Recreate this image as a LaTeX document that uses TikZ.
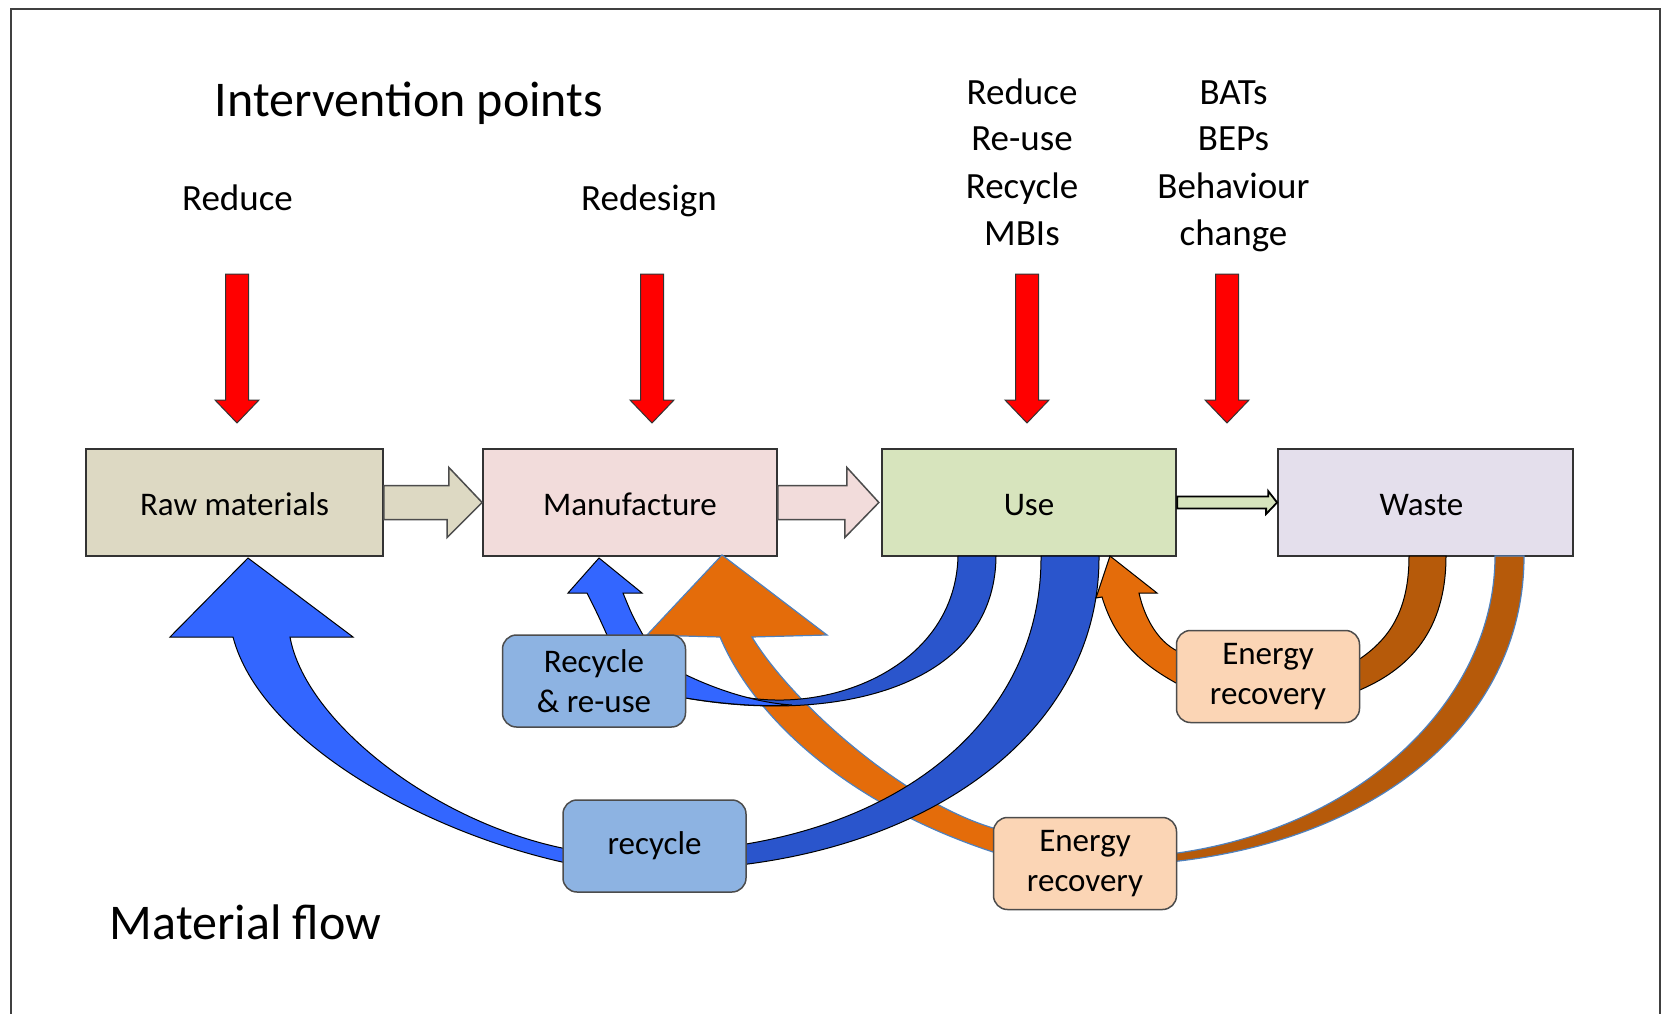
\documentclass[tikz,border=0pt]{standalone}
\usepackage{fontspec}
\setmainfont{Carlito}
\usetikzlibrary{calc}
\definecolor{rawc}{HTML}{DDD9C3}
\definecolor{manc}{HTML}{F2DCDB}
\definecolor{usec}{HTML}{D7E4BD}
\definecolor{wastec}{HTML}{E4DFEC}
\definecolor{bluebox}{HTML}{8DB3E2}
\definecolor{energybox}{HTML}{FBD5B5}
\definecolor{brightblue}{HTML}{3366FF}
\definecolor{darkblue}{HTML}{2A55CC}
\definecolor{orangec}{HTML}{E46C0A}
\definecolor{brownc}{HTML}{B65A0A}
\definecolor{edgeblue}{HTML}{4F81BD}
\begin{document}
\begin{tikzpicture}[x=1pt,y=-1pt,
  box/.style={draw=black!80, line width=1.8pt, inner sep=0pt, minimum height=107pt,
    text height=27pt, text depth=2pt, font=\fontsize{33}{38}\selectfont},
  rbox/.style={draw=black!70, line width=1.5pt, rounded corners=14pt, inner sep=0pt,
    minimum width=183pt, minimum height=92pt, align=center, font=\fontsize{33}{40}\selectfont},
  lab/.style={anchor=base, inner sep=0pt, font=\fontsize{37}{44}\selectfont},
  big/.style={anchor=base, inner sep=0pt, font=\fontsize{50}{60}\selectfont},
  redarrow/.style={fill=red, draw=black!80, line width=1pt},
  bar/.style={draw=black!70, line width=1.5pt},
  ribbon/.style={draw=black, line width=1pt},
  bribbon/.style={draw=edgeblue, line width=1.2pt}]
\useasboundingbox (0,0) rectangle (1666,1014);
\fill[white] (0,0) rectangle (1666,1014);
% frame
\draw[line width=2.2pt, black!75] (11,1014) -- (11,9) -- (1660,9) -- (1660,1014);

% headings
\node[big] (title) at (409,117) {Intervention points};
\node[big] (mflow) at (245.5,939) {Material flow};
\node[lab] (t1) at (237.5,211) {Reduce};
\node[lab] (t2) at (649,211) {Redesign};
\node[lab] (t3a) at (1022,105) {Reduce};
\node[lab] (t3b) at (1022,151) {Re-use};
\node[lab] (t3c) at (1022,198) {Recycle};
\node[lab] (t3d) at (1022,245) {MBIs};
\node[lab] (t4a) at (1233.5,105) {BATs};
\node[lab] (t4b) at (1233.5,151) {BEPs};
\node[lab] (t4c) at (1233.5,198) {Behaviour};
\node[lab] (t4d) at (1233.5,245) {change};

% red intervention arrows
\foreach \xx in {237,652,1027,1227}
  \draw[redarrow] (\xx-11.5,274) -- (\xx+11.5,274) -- (\xx+11.5,400) -- (\xx+22,400)
    -- (\xx,423) -- (\xx-22,400) -- (\xx-11.5,400) -- cycle;

% main boxes
\node[box, fill=rawc, minimum width=297pt] (raw) at (234.5,502.5) {Raw materials};
\node[box, fill=manc, minimum width=294pt] (man) at (630,502.5) {Manufacture};
\node[box, fill=usec, minimum width=294.5pt] (use) at (1029,502.5) {Use};
\node[box, fill=wastec, minimum width=295pt] (waste) at (1425.5,502.5) {\hspace*{-8pt}Waste};

% block arrows between boxes
\draw[bar, fill=rawc] ($(raw.east)+(0,-17)$) -- ++(65,0) -- ++(0,-18) -- (man.west)
  -- ++(-35,35) -- ++(0,-18) -- ($(raw.east)+(0,17)$) -- cycle;
\draw[bar, fill=manc] ($(man.east)+(0,-17)$) -- ++(69,0) -- ++(0,-18) -- ($(use.west)+(-2,0)$)
  -- ++(-34,35) -- ++(0,-18) -- ($(man.east)+(0,17)$) -- cycle;
\draw[draw=black, line width=1.8pt, fill=usec] ($(use.east)+(0,-6)$) -- ++(91,0) -- ++(0,-5.5) -- (waste.west)
  -- ++(-11,11.5) -- ++(0,-5.5) -- ($(use.east)+(0,6)$) -- cycle;

% big blue recycle arrow to raw materials
\draw[ribbon, fill=brightblue] (570,862) -- (562,862) .. controls (420,830) and (260,740) .. (233,637)
  -- (170,637) -- (248,558) -- (353,637) -- (290,637)
  .. controls (305,720) and (430,820) .. (562,848) -- (570,848) -- cycle;

% small blue up arrow (recycle & re-use to manufacture)
\draw[ribbon, fill=brightblue] (606,660) -- (607,635) .. controls (598,615) .. (587,593)
  -- (568,593) -- (599,558) -- (642,593) -- (623,593) .. controls (632,615) .. (643,635)
  -- (646,660) -- cycle;

% big orange arrow (energy recovery to manufacture)
\draw[bribbon, fill=orangec] (1000,852) -- (993,852) .. controls (850,805) and (755,720) .. (720,637)
  -- (647,635) -- (722,555) -- (827,635) -- (752,637)
  .. controls (790,700) and (900,800) .. (993,828) -- (1000,828) -- cycle;

% small blue arc from use (front face dark, back face bright)
\draw[ribbon, fill=darkblue] (958,556) -- (996,556) .. controls (995,690) and (830,725) .. (680,697)
  -- (680,672) .. controls (770,735) and (955,690) .. (958,556) -- cycle;
\draw[ribbon, fill=brightblue] (680,672) .. controls (720,692) and (760,703) .. (792,705)
  .. controls (760,707) and (720,704) .. (680,697) -- cycle;

% dark blue ribbon from use to recycle
\draw[ribbon, fill=darkblue] (1041,556) -- (1099,556) .. controls (1100,720) and (950,840) .. (740,865)
  -- (740,845) .. controls (930,815) and (1042,700) .. (1041,556) -- cycle;

% small orange arrow (energy recovery to use)
\draw[ribbon, fill=orangec] (1182,683) -- (1176,683) .. controls (1140,663) and (1115,640) .. (1102,597)
  -- (1096,598) -- (1110,556) -- (1157,593) -- (1139,593)
  .. controls (1145,620) and (1160,645) .. (1182,653) -- cycle;

% brown ribbons from waste
\draw[ribbon, fill=brownc] (1409,556) -- (1446,556) .. controls (1446,630) and (1410,670) .. (1355,692)
  -- (1355,662) .. controls (1390,640) and (1409,610) .. (1409,556) -- cycle;
\draw[bribbon, fill=brownc] (1495,556) -- (1524,556) .. controls (1524,720) and (1380,840) .. (1170,862)
  -- (1170,854) .. controls (1360,830) and (1495,700) .. (1495,556) -- cycle;

% rounded label boxes
\node[rbox, fill=bluebox] (rr) at (594,681) {Recycle\\\& re-use};
\node[rbox, fill=bluebox] (rc) at (654.5,846) {recycle};
\node[rbox, fill=energybox] (er1) at (1268,676.5) {Energy\\recovery};
\node[rbox, fill=energybox] (er2) at (1085,863.5) {Energy\\recovery};
\end{tikzpicture}
\end{document}
